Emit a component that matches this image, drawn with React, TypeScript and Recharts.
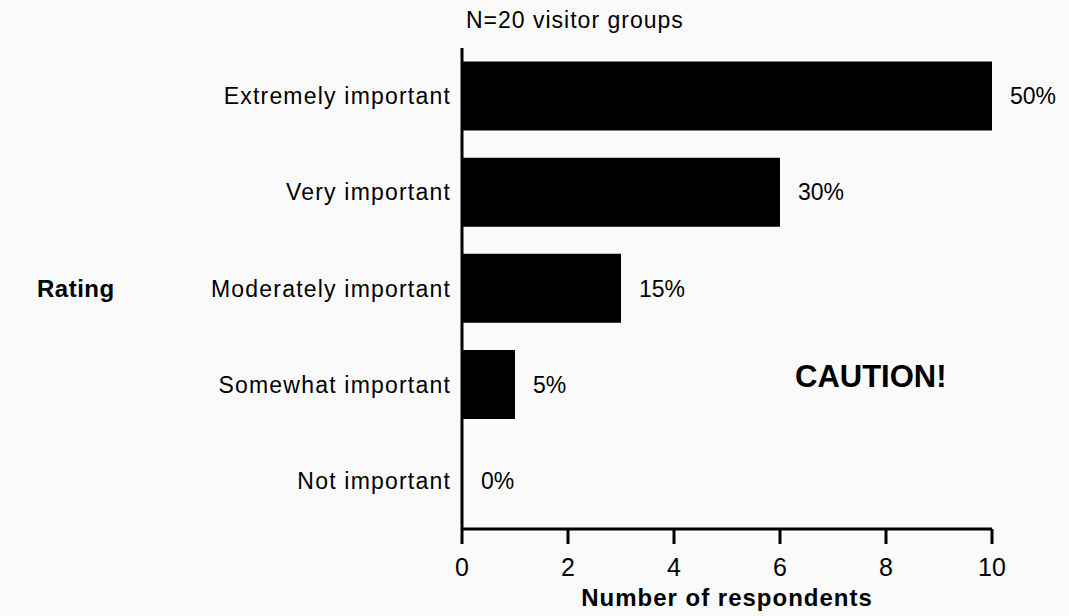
import { BarChart, Bar, XAxis, YAxis, LabelList } from "recharts";

const ratings = [
  "Extremely important",
  "Very important",
  "Moderately important",
  "Somewhat important",
  "Not important",
];
const respondents = [10, 6, 3, 1, 0];
const percentLabels = ["50%", "30%", "15%", "5%", "0%"];
const xTicks = [0, 2, 4, 6, 8, 10];

const data = ratings.map((rating, i) => ({
  rating,
  count: respondents[i],
  pct: percentLabels[i],
}));

const FONT = '"Liberation Sans", Arial, Helvetica, sans-serif';
const INK = "#000";

export default function App() {
  return (
    <div
      style={{
        position: "absolute",
        left: 0,
        top: 0,
        width: 1069,
        height: 616,
        background: "#fafafa",
        fontFamily: FONT,
        color: INK,
      }}
    >
      <div
        style={{
          position: "absolute",
          left: 466,
          top: 8,
          fontSize: 23,
          lineHeight: "24px",
          letterSpacing: 1,
        }}
      >
        N=20 visitor groups
      </div>
      <div
        style={{
          position: "absolute",
          left: 795,
          top: 361,
          fontSize: 31,
          lineHeight: "32px",
          fontWeight: 700,
        }}
      >
        CAUTION!
      </div>
      <BarChart
        width={1069}
        height={616}
        data={data}
        layout="vertical"
        margin={{ top: 48, right: 77, bottom: 0, left: 0 }}
        barCategoryGap="14%"
      >
        <XAxis
          type="number"
          dataKey="count"
          domain={[0, 10]}
          ticks={xTicks}
          height={87}
          tickSize={15}
          tickMargin={14}
          axisLine={{ stroke: "#000", strokeWidth: 3 }}
          tickLine={{ stroke: "#000", strokeWidth: 3 }}
          tick={{ fill: INK, fontSize: 25, fontFamily: FONT }}
          label={{
            value: "Number of respondents",
            position: "insideBottom",
            offset: 10,
            fill: INK,
            fontSize: 24,
            fontWeight: 700,
            fontFamily: FONT,
            letterSpacing: 1,
          }}
        />
        <YAxis
          type="category"
          dataKey="rating"
          width={462}
          tickSize={0}
          tickMargin={11}
          axisLine={{ stroke: "#000", strokeWidth: 3 }}
          tickLine={false}
          tick={{ fill: INK, fontSize: 23, fontFamily: FONT, letterSpacing: 1.2 }}
          label={{
            value: "Rating",
            position: "insideLeft",
            offset: 37,
            fill: INK,
            fontSize: 24,
            fontWeight: 700,
            fontFamily: FONT,
            letterSpacing: 0.5,
          }}
        />
        <Bar
          dataKey="count"
          fill="#000"
          minPointSize={1}
          isAnimationActive={false}
        >
          <LabelList
            dataKey="pct"
            position="right"
            offset={18}
            fill={INK}
            fontSize={23}
            fontFamily={FONT}
          />
        </Bar>
      </BarChart>
    </div>
  );
}
